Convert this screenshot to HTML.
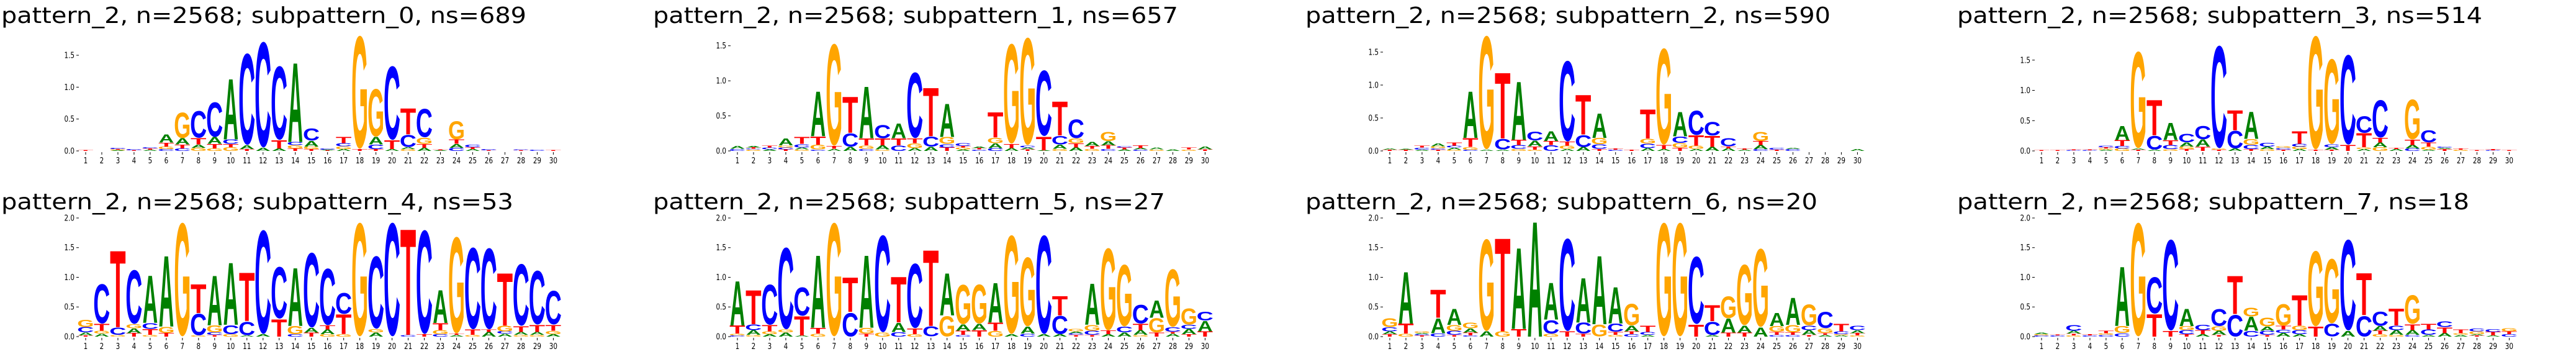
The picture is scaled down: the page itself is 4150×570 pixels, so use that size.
<!DOCTYPE html>
<html><head><meta charset="utf-8"><style>
html,body{margin:0;padding:0;background:#fff;overflow:hidden;}
svg{display:block;overflow:hidden;}
</style></head><body>
<svg id="chart" width="4150" height="570" viewBox="0 0 4150 570" xmlns="http://www.w3.org/2000/svg"></svg>
<script>
const titles = ["pattern_2, n=2568; subpattern_0, ns=689","pattern_2, n=2568; subpattern_1, ns=657","pattern_2, n=2568; subpattern_2, ns=590","pattern_2, n=2568; subpattern_3, ns=514","pattern_2, n=2568; subpattern_4, ns=53","pattern_2, n=2568; subpattern_5, ns=27","pattern_2, n=2568; subpattern_6, ns=20","pattern_2, n=2568; subpattern_7, ns=18"];
const yMax = [1.88,1.71,1.82,1.98,2.0,2.0,2.0,2.0];
const xTickLabels = ["1","2","3","4","5","6","7","8","9","10","11","12","13","14","15","16","17","18","19","20","21","22","23","24","25","26","27","28","29","30"];
const yTicksRow1 = [0,0.5,1.0,1.5];
const yTicksRow2 = [0,0.5,1.0,1.5,2.0];

const stacks0 = ["T","","AGTC","TC","ATC","CGTA","CTAG","GATC","GTAC","GTCA","TAC","AC","ATC","TGCA","TGAC","TAC","AGCT","TG","TCAG","ATC","GACT","ATGC","AT","CATG","ATC","TC","","TC","C","T"];
const heights0 = [[.01],[],[.01,.01,.01,.02],[.01,.02],[.02,.02,.02],[.03,.04,.06,.13],[.04,.06,.1,.42],[.05,.05,.1,.44],[.04,.07,.11,.57],[.06,.05,.07,.98],[.03,.06,1.5],[.05,1.73],[.04,.13,1.21],[.04,.05,.05,1.28],[.03,.04,.09,.2],[.01,.01,.02],[.03,.04,.05,.1],[.03,1.85],[.03,.07,.12,.78],[.03,.14,1.21],[.03,.03,.2,.42],[.05,.06,.1,.47],[.01,.01],[.05,.06,.07,.3],[.03,.03,.04],[.01,.02],[],[.01,.01],[.02],[.01]];
const stacks1 = ["CA","GCTA","ACT","TCGA","GACT","CGTA","ATG","ACT","CGTA","GATC","CTA","AGTC","ACT","TCGA","AGTC","CTA","CAGT","ATG","TACG","ATC","GACT","ATGC","GTA","CTAG","ATC","CAT","GA","A","GT","TA"];
const heights1 = [[.03,.04],[.02,.01,.02,.02],[.02,.03,.03],[.02,.03,.03,.1],[.02,.03,.05,.1],[.02,.07,.12,.66],[.03,.04,1.52],[.06,.2,.53],[.03,.05,.1,.76],[.02,.06,.1,.2],[.08,.1,.22],[.04,.07,.07,.98],[.06,.15,.71],[.05,.05,.1,.49],[.02,.03,.02,.04],[.02,.02,.02],[.04,.07,.08,.37],[.04,.06,1.49],[.02,.03,.03,1.6],[.01,.2,.98],[.03,.06,.13,.5],[.05,.06,.07,.28],[.03,.04,.06],[.03,.05,.06,.14],[.02,.03,.02],[.02,.02,.04],[.02,.03],[.02],[.02,.03],[.02,.04]];
const stacks2 = ["TA","TA","ACT","TCGA","GACT","CGTA","AG","ACT","GCTA","GTAC","CTA","AGTC","ACT","TCGA","CT","T","ACGT","ATG","TGCA","AGTC","ATC","ATC","AT","CATG","TC","CA","","","","A"];
const heights2 = [[.02,.02],[.02,.01],[.02,.03,.03],[.02,.02,.03,.04],[.02,.03,.03,.05],[.02,.04,.14,.73],[.02,1.8],[.02,.17,1.03],[.03,.06,.08,.91],[.02,.05,.09,.14],[.09,.06,.15],[.03,.05,.06,1.28],[.06,.19,.62],[.03,.07,.1,.38],[.02,.02],[.02],[.04,.07,.08,.46],[.03,.06,1.53],[.05,.07,.1,.38],[.03,.05,.16,.39],[.06,.17,.22],[.04,.03,.13],[.02,.02],[.03,.06,.06,.15],[.02,.03],[.03,.02],[],[],[],[.03]];
const stacks3 = ["T","T","CT","CT","AGTC","GCTA","TAG","ACT","GCTA","TGAC","TAC","TGC","ACT","TCGA","GAC","TCG","AGCT","TG","TACG","TC","AGTC","GATC","AT","CATG","AGTC","TAC","GT","T","CT","T"];
const heights3 = [[.01],[.01],[.01,.01],[.01,.01],[.02,.02,.02,.03],[.04,.04,.1,.24],[.02,.02,1.67],[.02,.24,.6],[.03,.07,.08,.29],[.03,.04,.07,.15],[.07,.12,.23],[.02,.02,1.77],[.04,.3,.34],[.03,.07,.1,.46],[.03,.04,.06],[.02,.03,.03],[.03,.04,.05,.21],[.02,1.96],[.02,.04,.05,1.47],[.1,1.55],[.03,.03,.24,.29],[.06,.08,.08,.65],[.03,.02],[.04,.06,.09,.69],[.02,.05,.07,.21],[.03,.02,.02],[.02,.02],[.01],[.01,.02],[.01]];
const stacks4 = ["TACG","AGTC","GCT","TAGC","GTCA","TGA","G","GCT","TCGA","GCA","ACT","AC","TC","CGA","TAC","GATC","GTC","G","AGC","C","CT","TC","CGTA","ATG","GTC","ATC","ACGT","GATC","GATC","AGTC"];
const heights4 = [[.02,.05,.09,.13],[.05,.05,.12,.7],[.03,.13,1.33],[.06,.08,.07,.95],[.03,.1,.1,.82],[.06,.11,1.23],[2.0],[.02,.38,.5],[.03,.04,.12,.86],[.04,.16,1.08],[.02,.24,.84],[.04,1.83],[.3,.91],[.04,.14,1.01],[.07,.08,1.32],[.04,.08,.07,1.0],[.04,.34,.37],[2.0],[.07,.06,1.28],[2.0],[.03,1.84],[.04,1.83],[.04,.07,.12,.57],[.03,.02,1.7],[.03,.09,1.44],[.08,.04,1.43],[.05,.04,.1,.91],[.03,.05,.1,1.09],[.03,.05,.12,.95],[.04,.06,.1,.6]];
const stacks5 = ["CGTA","GACT","AGTC","AGC","ATC","GTA","G","CT","TGA","GC","CAT","GTC","CT","GA","CTAG","TAG","GTA","AG","CAG","AC","ACT","TCAG","TCGA","ATG","ACG","GATC","TGA","ATCG","TACG","TAC"];
const heights5 = [[.02,.03,.14,.77],[.03,.08,.1,.59],[.04,.05,.11,.71],[.07,.05,1.44],[.02,.33,.5],[.05,.1,1.26],[2.0],[.42,.6],[.05,.1,1.26],[.07,1.71],[.08,.16,.79],[.04,.1,1.14],[.18,1.32],[.36,.73],[.03,.07,.11,.7],[.11,.11,.69],[.1,.14,.69],[.04,1.74],[.05,.12,1.22],[.04,1.74],[.04,.32,.33],[.03,.03,.03,.04],[.03,.07,.1,.72],[.04,.06,1.45],[.07,.1,1.09],[.03,.08,.11,.33],[.07,.25,.3],[.05,.03,.08,1.02],[.04,.09,.07,.29],[.09,.18,.16]];
const stacks6 = ["TACG","GTA","TCAG","CAT","TCGA","CTAG","AG","GT","TA","A","GCA","TC","TCA","GA","GTCA","CTAG","ACT","G","G","TC","ACT","TAG","TAG","AG","CTGA","CTGA","TACG","ATGC","AGCT","GTAC"];
const heights6 = [[.04,.05,.07,.16],[.05,.17,.9],[.02,.02,.02,.03],[.06,.26,.49],[.03,.07,.1,.28],[.02,.05,.07,.1],[.09,1.62],[.09,1.62],[.13,1.41],[2.0],[.05,.24,.64],[.09,1.63],[.05,.19,.77],[.21,1.19],[.03,.05,.14,.63],[.04,.05,.1,.38],[.03,.05,.11],[2.0],[2.0],[.21,1.19],[.03,.23,.28],[.07,.24,.39],[.07,.12,1.07],[.16,1.38],[.03,.05,.1,.23],[.03,.04,.13,.47],[.03,.08,.08,.37],[.03,.03,.08,.29],[.02,.02,.05,.13],[.02,.04,.05,.08]];
const stacks7 = ["CGA","CT","GTAC","CT","CGT","CGA","G","TC","TC","TCGA","ATC","TAGC","CT","CAG","TCAG","ACTG","ACGT","TG","CG","AC","CT","GTAC","GACT","CATG","ACT","ATC","AGT","TAGC","ATC","CTG"];
const heights7 = [[.02,.02,.03],[.02,.01],[.02,.03,.05,.1],[.02,.02],[.03,.03,.04],[.06,.12,1.03],[2.0],[.39,.65],[.1,1.6],[.04,.07,.07,.3],[.04,.07,.09],[.03,.07,.08,.3],[.38,.66],[.1,.24,.16],[.03,.07,.07,.16],[.06,.06,.06,.38],[.04,.07,.08,.53],[.17,1.33],[.22,1.14],[.1,1.6],[.36,.73],[.04,.06,.08,.25],[.03,.08,.08,.29],[.03,.08,.1,.51],[.03,.09,.1],[.06,.1,.1],[.03,.03,.06],[.02,.02,.05,.05],[.02,.06,.05],[.04,.05,.06]];

const allStacks = [stacks0,stacks1,stacks2,stacks3,stacks4,stacks5,stacks6,stacks7];
const allHeights = [heights0,heights1,heights2,heights3,heights4,heights5,heights6,heights7];

const NS = "http://www.w3.org/2000/svg";
const svg = document.getElementById("chart");
const colX = [0,1050,2101,3151];
const rowBase = [243,542];
const rowTop = [50,351];
const rowTitleY = [37,337];
const rowTickBaseline = [263,562];
const colors = {A:"#008000",C:"#0000ff",G:"#ffa500",T:"#ff0000"};
const glyph = {A:{lsb:0.5,ink:71,h:71.6,d:0},C:{lsb:4.5,ink:64,h:74,d:1.2},G:{lsb:4.5,ink:69,h:74,d:1.2},T:{lsb:2,ink:57.5,h:71.6,d:0}};

function mk(tag, attrs, parent){
  const e = document.createElementNS(NS, tag);
  for (const k in attrs) e.setAttribute(k, attrs[k]);
  parent.appendChild(e);
  return e;
}

for (let p = 0; p < 8; p++) {
  const row = Math.floor(p/4), col = p%4;
  const ox = colX[col];
  const base = rowBase[row], top = rowTop[row];
  const ymax = yMax[p];
  const xScale = i => ox + 138 + i*25.98;
  const yScale = v => base - v/ymax*(base-top);
  const g = mk("g", {}, svg);
  
  
  const t = mk("text", {x: ox+2, y: rowTitleY[row], "font-family":"'DejaVu Sans','Liberation Sans',sans-serif", "font-size":"36", fill:"#000", textLength: (titles[p].length*21.7).toFixed(0), lengthAdjust:"spacingAndGlyphs"}, g);
  
  
  t.textContent = titles[p];
  const yt = row === 0 ? yTicksRow1 : yTicksRow2;
  for (const v of yt) {
    const yy = yScale(v);
    const lx = xScale(0)-18;
    const lab = mk("text", {x: lx, y: yy+4.5, "text-anchor":"end", "font-family":"'DejaVu Sans','Liberation Sans',sans-serif", "font-size":"13", fill:"#000", transform:`translate(${lx},${yy}) scale(0.8,1) translate(${-lx},${-yy})`}, g);
    
    
    lab.textContent = v.toFixed(1);
    const tk = mk("line", {x1: xScale(0)-15, x2: xScale(0)-11, y1: yy, y2: yy, stroke:"#000", "stroke-width":"1"}, g);
    
    
  }
  for (let i = 0; i < xTickLabels.length; i++) {
    const xx = xScale(i);
    const tk = mk("line", {x1: xx, x2: xx, y1: base+2, y2: base+6, stroke:"#000", "stroke-width":"1"}, g);
    
    
    const lab = mk("text", {x: xx, y: rowTickBaseline[row], "text-anchor":"middle", "font-family":"'DejaVu Sans','Liberation Sans',sans-serif", "font-size":"13", fill:"#000", transform:`translate(${xx},0) scale(0.8,1) translate(${-xx},0)`}, g);
    
    
    lab.textContent = xTickLabels[i];
  }
  const st = allStacks[p], hs = allHeights[p];
  const W = 24;
  for (let i = 0; i < st.length; i++) {
    let cum = 0;
    const cx = xScale(i);
    for (let k = 0; k < st[i].length; k++) {
      const L = st[i][k];
      const h = hs[i][k] || 0;
      if (h <= 0) continue;
      const y0 = yScale(cum), y1 = yScale(cum + h);
      cum += h;
      const px = y0 - y1;
      const gm = glyph[L];
      const sx = W / gm.ink, sy = px / gm.h;
      const bx = cx - W/2 - gm.lsb*sx;
      const by = y0 - gm.d*sy;
      const tx = mk("text", {x:0, y:0, "font-family":"'Liberation Sans',sans-serif", "font-weight":"bold", "font-size":"100", fill: colors[L], transform:`translate(${bx.toFixed(2)},${by.toFixed(2)}) scale(${sx.toFixed(4)},${sy.toFixed(4)})`}, g);
      
      
      tx.textContent = L;
    }
  }
}
</script>
</body></html>
